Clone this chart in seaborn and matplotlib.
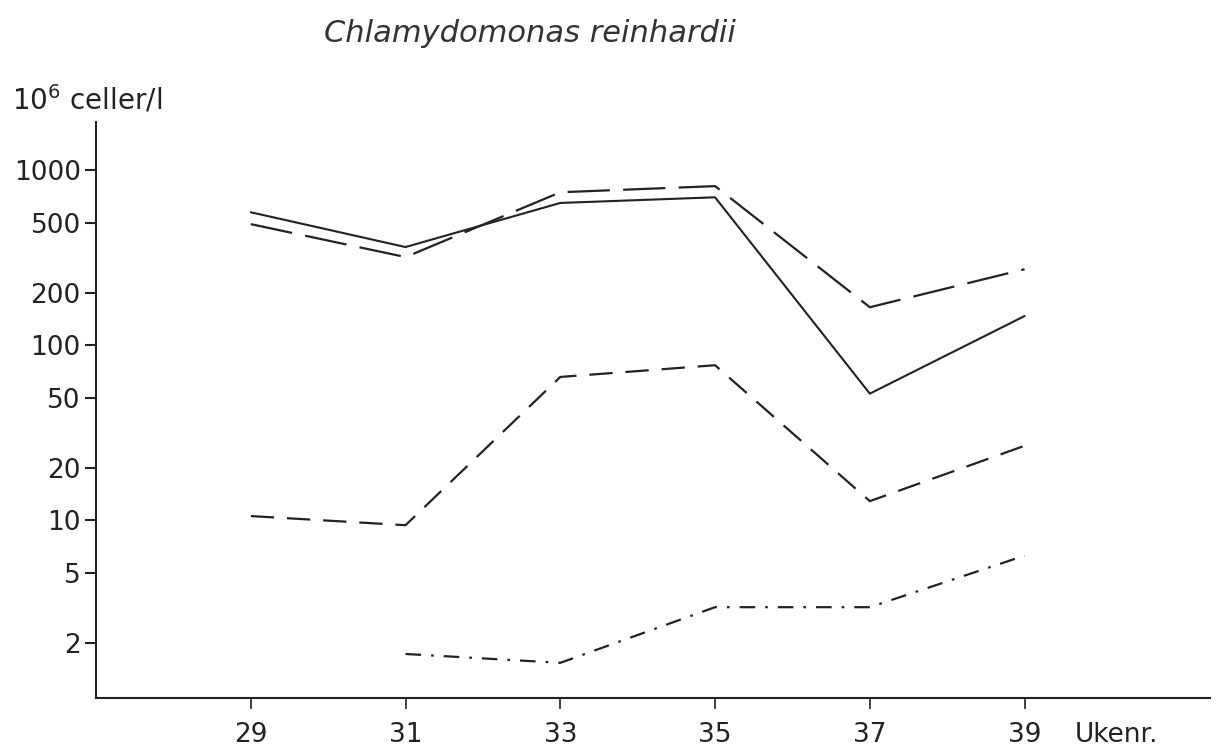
import numpy as np
import pandas as pd
import matplotlib
matplotlib.use("Agg")
import matplotlib.pyplot as plt
import seaborn as sns

# data (10^6 cells per litre, log scale)
weeks = [29, 31, 33, 35, 37, 39]
solid = [575, 364, 650, 700, 53, 147]
long_dash = [492, 319, 748, 811, 165, 272]
mid_dash = [10.6, 9.4, 66, 77, 12.9, 26.7]
dash_dot = [np.nan, 1.73, 1.54, 3.2, 3.2, 6.3]

yticks = [2, 5, 10, 20, 50, 100, 200, 500, 1000]

sns.set_style("ticks")
plt.rcParams['font.family'] = ['DejaVu Sans']

df = pd.DataFrame({"uke": weeks, "solid": solid, "long": long_dash,
                   "mid": mid_dash, "dashdot": dash_dot})

fig = plt.figure(figsize=(12.25, 7.54), dpi=100)
ax = fig.add_axes([0.0784, 0.0743, 0.9096, 0.7637])

col = "#222222"
sns.lineplot(data=df, x="uke", y="solid", ax=ax, color=col, lw=1.5)
sns.lineplot(data=df, x="uke", y="long", ax=ax, color=col, lw=1.6,
             linestyle=(0, (19, 6)))
sns.lineplot(data=df, x="uke", y="mid", ax=ax, color=col, lw=1.6,
             linestyle=(0, (10.5, 5.8)))
sns.lineplot(data=df.dropna(), x="uke", y="dashdot", ax=ax, color=col, lw=1.6,
             linestyle=(0, (7, 4.5, 1.2, 4.5)))

ax.set_yscale("log")
ax.set_ylim(0.97, 1880)
ax.set_xlim(27, 41.4)
ax.set_yticks(yticks)
ax.set_yticklabels([str(v) for v in yticks])
ax.minorticks_off()
ax.set_xticks(weeks)
ax.set_xticklabels([str(w) for w in weeks])
ax.set_xlabel("")
ax.set_ylabel("")

sns.despine(ax=ax)
for s in ["left", "bottom"]:
    ax.spines[s].set_linewidth(1.5)
    ax.spines[s].set_color("#222222")
ax.tick_params(axis="y", length=8, width=1.5, pad=3, labelsize=19, colors="#222222")
ax.tick_params(axis="x", length=8, width=1.2, pad=9, labelsize=19, colors="#222222")

fig.text(0.433, 0.955, "Chlamydomonas reinhardii", style="italic",
         fontsize=22, ha="center", va="center", color="#333333")
fig.text(0.01, 0.868, r"$\mathregular{10^6}$ celler/l", fontsize=20,
         ha="left", va="center", color="#222222")
fig.text(0.877, 0.025, "Ukenr.", fontsize=19, ha="left", va="center",
         color="#222222")

fig.savefig("out.png", dpi=100)
